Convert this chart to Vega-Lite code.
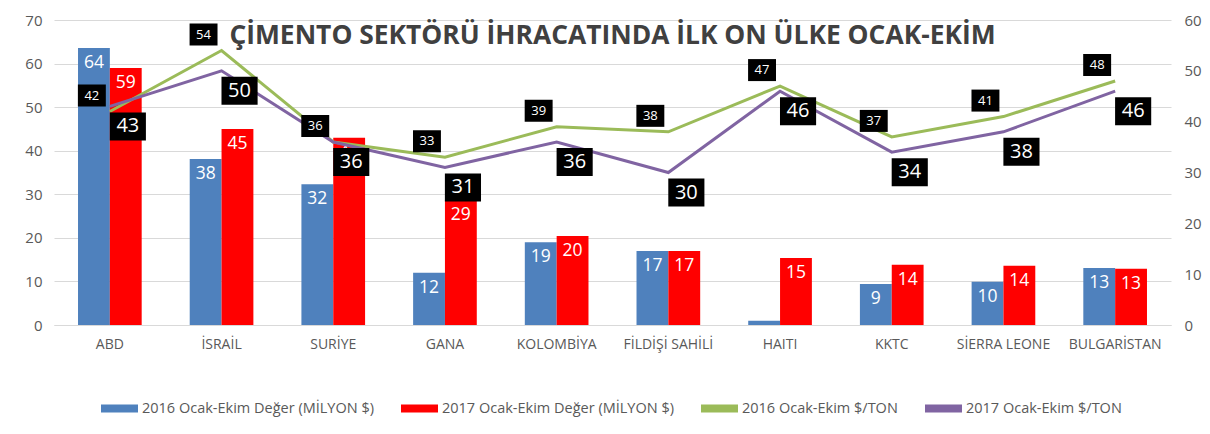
{
  "$schema": "https://vega.github.io/schema/vega-lite/v6.json",
  "width": 1117,
  "height": 305,
  "padding": {"left": 24, "top": 13, "right": 5, "bottom": 5},
  "background": "white",
  "title": {
    "text": "ÇİMENTO SEKTÖRÜ İHRACATINDA İLK ON ÜLKE OCAK-EKİM",
    "font": "Open Sans",
    "fontSize": 26.4,
    "fontWeight": "bold",
    "color": "#404040",
    "anchor": "middle",
    "frame": "group",
    "offset": -36
  },
  "config": {
    "font": "Open Sans",
    "view": {"stroke": null},
    "axis": {"labelColor": "#595959", "ticks": false, "title": null}
  },
  "datasets": {
    "bars": [
      {"ulke": "ABD", "seri": "2016 Ocak-Ekim Değer (MİLYON $)", "deger": 63.6},
      {"ulke": "ABD", "seri": "2017 Ocak-Ekim Değer (MİLYON $)", "deger": 59.0},
      {"ulke": "İSRAİL", "seri": "2016 Ocak-Ekim Değer (MİLYON $)", "deger": 38.1},
      {"ulke": "İSRAİL", "seri": "2017 Ocak-Ekim Değer (MİLYON $)", "deger": 45.0},
      {"ulke": "SURİYE", "seri": "2016 Ocak-Ekim Değer (MİLYON $)", "deger": 32.3},
      {"ulke": "SURİYE", "seri": "2017 Ocak-Ekim Değer (MİLYON $)", "deger": 43.0},
      {"ulke": "GANA", "seri": "2016 Ocak-Ekim Değer (MİLYON $)", "deger": 12.0},
      {"ulke": "GANA", "seri": "2017 Ocak-Ekim Değer (MİLYON $)", "deger": 28.7},
      {"ulke": "KOLOMBİYA", "seri": "2016 Ocak-Ekim Değer (MİLYON $)", "deger": 19.0},
      {"ulke": "KOLOMBİYA", "seri": "2017 Ocak-Ekim Değer (MİLYON $)", "deger": 20.4},
      {"ulke": "FİLDİŞİ SAHİLİ", "seri": "2016 Ocak-Ekim Değer (MİLYON $)", "deger": 17.0},
      {"ulke": "FİLDİŞİ SAHİLİ", "seri": "2017 Ocak-Ekim Değer (MİLYON $)", "deger": 17.0},
      {"ulke": "HAITI", "seri": "2016 Ocak-Ekim Değer (MİLYON $)", "deger": 1.0},
      {"ulke": "HAITI", "seri": "2017 Ocak-Ekim Değer (MİLYON $)", "deger": 15.4},
      {"ulke": "KKTC", "seri": "2016 Ocak-Ekim Değer (MİLYON $)", "deger": 9.4},
      {"ulke": "KKTC", "seri": "2017 Ocak-Ekim Değer (MİLYON $)", "deger": 13.8},
      {"ulke": "SİERRA LEONE", "seri": "2016 Ocak-Ekim Değer (MİLYON $)", "deger": 9.9},
      {"ulke": "SİERRA LEONE", "seri": "2017 Ocak-Ekim Değer (MİLYON $)", "deger": 13.6},
      {"ulke": "BULGARİSTAN", "seri": "2016 Ocak-Ekim Değer (MİLYON $)", "deger": 13.1},
      {"ulke": "BULGARİSTAN", "seri": "2017 Ocak-Ekim Değer (MİLYON $)", "deger": 12.9}
    ],
    "lines": [
      {"ulke": "ABD", "seri": "2016 Ocak-Ekim $/TON", "deger": 42},
      {"ulke": "İSRAİL", "seri": "2016 Ocak-Ekim $/TON", "deger": 54},
      {"ulke": "SURİYE", "seri": "2016 Ocak-Ekim $/TON", "deger": 36},
      {"ulke": "GANA", "seri": "2016 Ocak-Ekim $/TON", "deger": 33},
      {"ulke": "KOLOMBİYA", "seri": "2016 Ocak-Ekim $/TON", "deger": 39},
      {"ulke": "FİLDİŞİ SAHİLİ", "seri": "2016 Ocak-Ekim $/TON", "deger": 38},
      {"ulke": "HAITI", "seri": "2016 Ocak-Ekim $/TON", "deger": 47},
      {"ulke": "KKTC", "seri": "2016 Ocak-Ekim $/TON", "deger": 37},
      {"ulke": "SİERRA LEONE", "seri": "2016 Ocak-Ekim $/TON", "deger": 41},
      {"ulke": "BULGARİSTAN", "seri": "2016 Ocak-Ekim $/TON", "deger": 48},
      {"ulke": "ABD", "seri": "2017 Ocak-Ekim $/TON", "deger": 43},
      {"ulke": "İSRAİL", "seri": "2017 Ocak-Ekim $/TON", "deger": 50},
      {"ulke": "SURİYE", "seri": "2017 Ocak-Ekim $/TON", "deger": 36},
      {"ulke": "GANA", "seri": "2017 Ocak-Ekim $/TON", "deger": 31},
      {"ulke": "KOLOMBİYA", "seri": "2017 Ocak-Ekim $/TON", "deger": 36},
      {"ulke": "FİLDİŞİ SAHİLİ", "seri": "2017 Ocak-Ekim $/TON", "deger": 30},
      {"ulke": "HAITI", "seri": "2017 Ocak-Ekim $/TON", "deger": 46},
      {"ulke": "KKTC", "seri": "2017 Ocak-Ekim $/TON", "deger": 34},
      {"ulke": "SİERRA LEONE", "seri": "2017 Ocak-Ekim $/TON", "deger": 38},
      {"ulke": "BULGARİSTAN", "seri": "2017 Ocak-Ekim $/TON", "deger": 46}
    ]
  },
  "encoding": {
    "x": {
      "field": "ulke",
      "type": "nominal",
      "sort": null,
      "scale": {"paddingInner": 0.43, "paddingOuter": 0.215},
      "axis": {
        "labelAngle": 0,
        "labelFontSize": 14,
        "labelPadding": 12,
        "domainColor": "#D9D9D9",
        "domainWidth": 1
      }
    }
  },
  "layer": [
    {
      "data": {"name": "bars"},
      "encoding": {
        "y": {
          "field": "deger",
          "type": "quantitative",
          "scale": {"domain": [0, 70], "nice": false},
          "axis": {
            "values": [0, 10, 20, 30, 40, 50, 60, 70],
            "domain": false,
            "grid": true,
            "gridColor": "#D9D9D9",
            "labelFontSize": 15,
            "labelPadding": 12
          }
        },
        "xOffset": {"field": "seri", "sort": null, "scale": {"paddingInner": 0}}
      },
      "layer": [
        {
          "mark": {"type": "bar"},
          "encoding": {
            "color": {
              "field": "seri",
              "type": "nominal",
              "scale": {
                "domain": ["2016 Ocak-Ekim Değer (MİLYON $)", "2017 Ocak-Ekim Değer (MİLYON $)", "2016 Ocak-Ekim $/TON", "2017 Ocak-Ekim $/TON"],
                "range": ["#4F81BD", "#FF0000", "#9BBB59", "#8064A2"]
              },
              "legend": {
                "orient": "none",
                "legendX": 47,
                "legendY": 370,
                "direction": "horizontal",
                "title": null,
                "symbolType": "M-1,-0.22L1,-0.22L1,0.22L-1,0.22Z",
                "symbolSize": 1369,
                "symbolStrokeWidth": 0,
                "labelFontSize": 14.5,
                "labelColor": "#595959",
                "labelOffset": 4,
                "columnPadding": 27,
                "labelLimit": 400
              }
            }
          }
        },
        {
          "transform": [{"filter": "datum.deger >= 5"}],
          "mark": {"type": "text", "baseline": "top", "dy": 6, "color": "white", "fontSize": 17.5},
          "encoding": {"text": {"field": "deger", "type": "quantitative", "format": ".0f"}}
        }
      ]
    },
    {
      "data": {"name": "lines"},
      "encoding": {
        "y": {
          "field": "deger",
          "type": "quantitative",
          "scale": {"domain": [0, 60], "nice": false},
          "axis": {
            "values": [0, 10, 20, 30, 40, 50, 60],
            "domain": false,
            "grid": false,
            "labelFontSize": 15,
            "labelPadding": 13
          }
        }
      },
      "layer": [
        {
          "mark": {"type": "line", "strokeWidth": 3},
          "encoding": {"color": {"field": "seri", "type": "nominal"}}
        },
        {
          "transform": [{"filter": "datum.seri == '2016 Ocak-Ekim $/TON'"}],
          "mark": {"type": "point", "shape": "M-1.27,-1L1.27,-1L1.27,1L-1.27,1Z", "filled": true, "color": "black", "opacity": 1, "size": 484, "xOffset": -18, "yOffset": -16},
          "encoding": {}
        },
        {
          "transform": [{"filter": "datum.seri == '2016 Ocak-Ekim $/TON'"}],
          "mark": {"type": "text", "color": "white", "fontSize": 13, "xOffset": -18, "yOffset": -16, "baseline": "middle"},
          "encoding": {"text": {"field": "deger", "type": "quantitative", "format": ".0f"}}
        },
        {
          "transform": [{"filter": "datum.seri == '2017 Ocak-Ekim $/TON'"}],
          "mark": {"type": "point", "shape": "M-1.29,-1L1.29,-1L1.29,1L-1.29,1Z", "filled": true, "color": "black", "opacity": 1, "size": 784, "xOffset": 18, "yOffset": 20},
          "encoding": {}
        },
        {
          "transform": [{"filter": "datum.seri == '2017 Ocak-Ekim $/TON'"}],
          "mark": {"type": "text", "color": "white", "fontSize": 20, "xOffset": 18, "yOffset": 20, "baseline": "middle"},
          "encoding": {"text": {"field": "deger", "type": "quantitative", "format": ".0f"}}
        }
      ]
    }
  ],
  "resolve": {"scale": {"y": "independent"}}
}
